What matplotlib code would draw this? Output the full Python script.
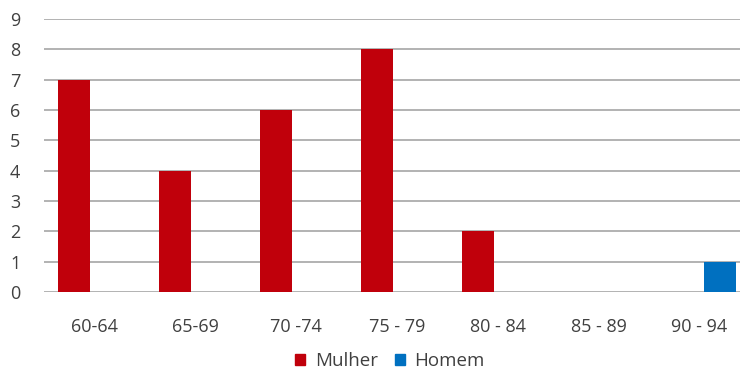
import matplotlib
matplotlib.use("Agg")
import matplotlib.pyplot as plt
import numpy as np
from matplotlib.patches import Patch

categories = ["60-64", "65-69", "70 -74", "75 - 79", "80 - 84", "85 - 89", "90 - 94"]
mulher = [7, 4, 6, 8, 2, 0, 0]
homem = [0, 0, 0, 0, 0, 0, 1]
yticks = list(range(0, 10))

plt.rcParams['font.family'] = ['Open Sans', 'DejaVu Sans']

fig = plt.figure(figsize=(7.40, 3.73), dpi=100)
ax = fig.add_axes([44/740, 1-292/373, (750-44)/740, (292-19)/373])

x = np.arange(len(categories))
w = 0.32
red = '#C0000B'
blue = '#0070C0'
ax.bar(x - 0.2, mulher, width=w, color=red, zorder=3)
ax.bar(x + 0.2, homem, width=w, color=blue, zorder=3)

ax.set_xlim(-0.5, 6.5)
ax.set_ylim(0, 9)
ax.set_yticks(yticks)
ax.set_xticks(x)
ax.set_xticklabels(categories)
ax.grid(axis='y', color='#a6a6a6', linewidth=1.2, zorder=0)
for s in ax.spines.values():
    s.set_visible(False)
ax.tick_params(axis='both', length=0, labelsize=13, colors='#404040')
ax.tick_params(axis='y', pad=17)
ax.tick_params(axis='x', pad=19)

handles = [Patch(color=red, label='Mulher'), Patch(color=blue, label='Homem')]
fig.legend(handles=handles, loc='center', bbox_to_anchor=(390/740, 1-361/373),
           ncol=2, frameon=False, fontsize=13.5, handlelength=0.55, handleheight=0.55,
           handletextpad=0.5, columnspacing=0.9, labelcolor='#404040',
           borderpad=0.1)

fig.savefig('out.png', dpi=100, facecolor='white')
